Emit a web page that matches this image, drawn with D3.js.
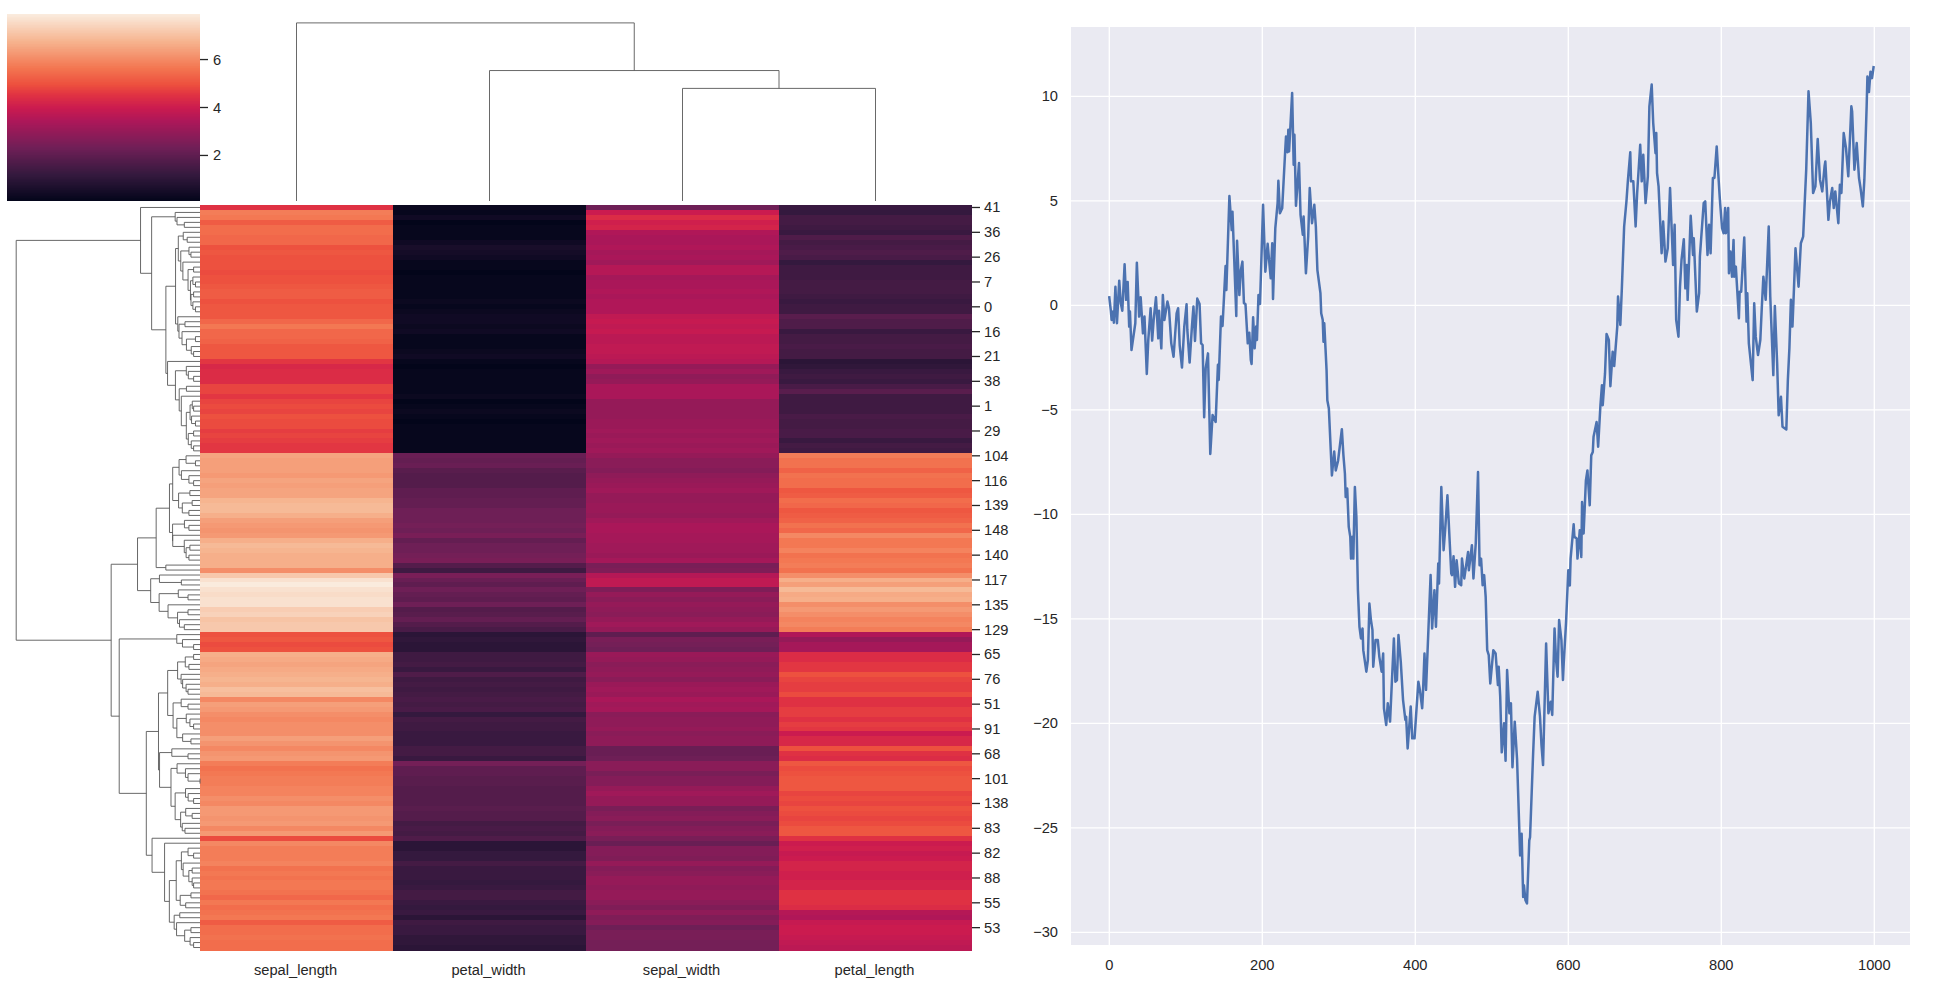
<!DOCTYPE html>
<html>
<head>
<meta charset="utf-8">
<script src="https://cdn.jsdelivr.net/npm/d3@7"></script>
<style>
html,body{margin:0;padding:0;background:#fff;overflow:hidden}
svg{display:block}
text{font-family:"Liberation Sans",Arial,sans-serif;font-size:14.67px;fill:#262626}
</style>
</head>
<body>
<svg id="chart" width="1943" height="981"></svg>
<script>
// Iris measurements, one array per heat-map column, in data-frame index order
const sepalLength = [5.1,4.9,4.7,4.6,5.0,5.4,4.6,5.0,4.4,4.9,5.4,4.8,4.8,4.3,5.8,5.7,5.4,5.1,5.7,5.1,5.4,5.1,4.6,5.1,4.8,5.0,5.0,5.2,5.2,4.7,4.8,5.4,5.2,5.5,4.9,5.0,5.5,4.9,4.4,5.1,5.0,4.5,4.4,5.0,5.1,4.8,5.1,4.6,5.3,5.0,
7.0,6.4,6.9,5.5,6.5,5.7,6.3,4.9,6.6,5.2,5.0,5.9,6.0,6.1,5.6,6.7,5.6,5.8,6.2,5.6,5.9,6.1,6.3,6.1,6.4,6.6,6.8,6.7,6.0,5.7,5.5,5.5,5.8,6.0,5.4,6.0,6.7,6.3,5.6,5.5,5.5,6.1,5.8,5.0,5.6,5.7,5.7,6.2,5.1,5.7,
6.3,5.8,7.1,6.3,6.5,7.6,4.9,7.3,6.7,7.2,6.5,6.4,6.8,5.7,5.8,6.4,6.5,7.7,7.7,6.0,6.9,5.6,7.7,6.3,6.7,7.2,6.2,6.1,6.4,7.2,7.4,7.9,6.4,6.3,6.1,7.7,6.3,6.4,6.0,6.9,6.7,6.9,5.8,6.8,6.7,6.7,6.3,6.5,6.2,5.9];
const sepalWidth = [3.5,3.0,3.2,3.1,3.6,3.9,3.4,3.4,2.9,3.1,3.7,3.4,3.0,3.0,4.0,4.4,3.9,3.5,3.8,3.8,3.4,3.7,3.6,3.3,3.4,3.0,3.4,3.5,3.4,3.2,3.1,3.4,4.1,4.2,3.1,3.2,3.5,3.6,3.0,3.4,3.5,2.3,3.2,3.5,3.8,3.0,3.8,3.2,3.7,3.3,
3.2,3.2,3.1,2.3,2.8,2.8,3.3,2.4,2.9,2.7,2.0,3.0,2.2,2.9,2.9,3.1,3.0,2.7,2.2,2.5,3.2,2.8,2.5,2.8,2.9,3.0,2.8,3.0,2.9,2.6,2.4,2.4,2.7,2.7,3.0,3.4,3.1,2.3,3.0,2.5,2.6,3.0,2.6,2.3,2.7,3.0,2.9,2.9,2.5,2.8,
3.3,2.7,3.0,2.9,3.0,3.0,2.5,2.9,2.5,3.6,3.2,2.7,3.0,2.5,2.8,3.2,3.0,3.8,2.6,2.2,3.2,2.8,2.8,2.7,3.3,3.2,2.8,3.0,2.8,3.0,2.8,3.8,2.8,2.8,2.6,3.0,3.4,3.1,3.0,3.1,3.1,3.1,2.7,3.2,3.3,3.0,2.5,3.0,3.4,3.0];
const petalLength = [1.4,1.4,1.3,1.5,1.4,1.7,1.4,1.5,1.4,1.5,1.5,1.6,1.4,1.1,1.2,1.5,1.3,1.4,1.7,1.5,1.7,1.5,1.0,1.7,1.9,1.6,1.6,1.5,1.4,1.6,1.6,1.5,1.5,1.4,1.5,1.2,1.3,1.4,1.3,1.5,1.3,1.3,1.3,1.6,1.9,1.4,1.6,1.4,1.5,1.4,
4.7,4.5,4.9,4.0,4.6,4.5,4.7,3.3,4.6,3.9,3.5,4.2,4.0,4.7,3.6,4.4,4.5,4.1,4.5,3.9,4.8,4.0,4.9,4.7,4.3,4.4,4.8,5.0,4.5,3.5,3.8,3.7,3.9,5.1,4.5,4.5,4.7,4.4,4.1,4.0,4.4,4.6,4.0,3.3,4.2,4.2,4.2,4.3,3.0,4.1,
6.0,5.1,5.9,5.6,5.8,6.6,4.5,6.3,5.8,6.1,5.1,5.3,5.5,5.0,5.1,5.3,5.5,6.7,6.9,5.0,5.7,4.9,6.7,4.9,5.7,6.0,4.8,4.9,5.6,5.8,6.1,6.4,5.6,5.1,5.6,6.1,5.6,5.5,4.8,5.4,5.6,5.1,5.1,5.9,5.7,5.2,5.0,5.2,5.4,5.1];
const petalWidth = [0.2,0.2,0.2,0.2,0.2,0.4,0.3,0.2,0.2,0.1,0.2,0.2,0.1,0.1,0.2,0.4,0.4,0.3,0.3,0.3,0.2,0.4,0.2,0.5,0.2,0.2,0.4,0.2,0.2,0.2,0.2,0.4,0.1,0.2,0.2,0.2,0.2,0.1,0.2,0.2,0.3,0.3,0.2,0.6,0.4,0.3,0.2,0.2,0.2,0.2,
1.4,1.5,1.5,1.3,1.5,1.3,1.6,1.0,1.3,1.4,1.0,1.5,1.0,1.4,1.3,1.4,1.5,1.0,1.5,1.1,1.8,1.3,1.5,1.2,1.3,1.4,1.4,1.7,1.5,1.0,1.1,1.0,1.2,1.6,1.5,1.6,1.5,1.3,1.3,1.3,1.2,1.4,1.2,1.0,1.3,1.2,1.3,1.3,1.1,1.3,
2.5,1.9,2.1,1.8,2.2,2.1,1.7,1.8,1.8,2.5,2.0,1.9,2.1,2.0,2.4,2.3,1.8,2.2,2.3,1.5,2.3,2.0,2.0,1.8,2.1,1.8,1.8,1.8,2.1,1.6,1.9,2.0,2.2,1.5,1.4,2.3,2.4,1.8,1.8,2.1,2.4,2.3,1.9,2.3,2.5,2.3,1.9,2.0,2.3,1.8];
const columnNames = ["sepal_length","sepal_width","petal_length","petal_width"];
const colorbarTicks = [2,4,6];
const rocketPositions = [0,.143,.286,.429,.5,.571,.625,.714,.857,1];
const rocketStops = ["#03051a","#35193e","#701f57","#ad1759","#cb1b4f","#e13342","#ed503e","#f37651","#f6b48f","#faebdd"];

// Random-walk line: [step, value]
const walk = [[0,.38],[2,-.25],[3,-.7],[5,-.3],[6,-.83],[8,.89],[10,-.86],[13,1.18],[15,.1],[17,-.26],[20,1.96],[22,.26],[24,1.12],[26,-1.02],[27,-.3],[29,-2.14],[34,-.86],[36,2.04],[39,-.54],[41,.38],[44,-1.34],[46,-.54],[49,-3.29],[51,-1.63],[54,-.14],[56,-1.69],[58,-.7],[61,.38],[64,-1.58],[65,-.26],[68,-2.06],[70,.49],[72,-.7],[76,.18],[78,-.14],[81,-1.82],[84,-2.46],[88,-.38],[90,-.14],[92,-1.9],[95,-2.98],[98,-1.02],[101,.05],[102,-1.18],[105,-2.74],[108,-1.02],[110,-.06],[112,-1.71],[115,.32],[118,.06],[120,-1.82],[122,-1.9],[124,-5.36],[126,-3.01],[129,-2.3],[132,-7.11],[135,-5.25],[139,-5.58],[142,-2.85],[143,-3.57],[146,-.54],[148,-.99],[152,1.88],[153,.73],[157,5.23],[160,3.6],[161,4.48],[166,-.51],[167,3.09],[170,.49],[172,1.69],[174,2.09],[176,.1],[178,.06],[181,-1.82],[183,-1.31],[185,-2.62],[186,-2.81],[188,-.57],[190,-2.06],[192,-1.02],[193,-1.66],[195,.49],[197,.06],
[201,4.81],[204,1.61],[207,2.94],[211,1.29],[213,2.97],[214,.3],[217,3.69],[220,4.89],[221,5.96],[223,4.41],[226,4.65],[230,7.44],[231,8.08],[233,7.32],[234,8.4],[235,7.36],[239,10.16],[241,6.73],[242,8.16],[244,4.76],[248,6.81],[250,4.33],[253,3.37],[254,4.25],[257,1.53],[260,3.29],[262,5.61],[265,3.93],[268,4.81],[270,3.77],[272,1.69],[276,.58],[277,-.38],[279,-.7],[280,-1.74],[281,-.86],[284,-3.1],[285,-4.54],[287,-4.94],
[291,-8.14],[294,-7],[296,-7.9],[299,-7.45],[304,-5.93],[306,-7.16],[308,-8.06],[309,-9.17],[311,-8.77],[313,-10.6],[315,-11.08],[316,-12.12],[318,-11.08],[319,-12.12],[321,-8.69],[323,-10.13],[325,-13.63],[327,-15.38],[329,-15.94],[331,-15.46],[332,-16.5],[336,-17.53],[338,-16.97],[340,-14.27],[342,-15.06],[344,-15.54],[345,-17.29],[348,-16.02],[351,-16.02],[353,-16.82],[356,-17.53],[358,-16.66],[359,-19.28],[362,-20.08],[364,-19.04],[367,-19.92],[372,-15.94],[374,-18.01],[376,-17.93],[378,-15.78],[381,-17.05],[384,-18.89],[387,-19.84],[388,-19.68],[390,-21.2],[394,-19.2],[396,-20.72],[399,-20.72],[404,-18.01],[406,-18.4],[409,-19.28],[410,-18.57],[412,-16.66],[414,-18.4],[420,-12.91],[422,-15.46],[425,-13.63],[427,-15.38],[430,-12.36],[431,-13.31],[434,-8.69],[437,-11.72],[439,-10.76],[442,-9.09],[447,-12.83],[448,-12.91],[450,-12.01],[452,-13.47],[454,-12.2],[457,-13.31],[460,-13.39],[461,-12.12],[464,-13.07],[469,-11.8],[470,-12.68],[474,-11.48],[476,-13.07],[479,-11.4],[482,-7.98],[484,-12.44],[486,-12.12],[488,-13.39],[490,-12.91],[492,-13.95],[494,-16.5],[496,-16.74],[498,-18.09],[502,-16.5],[505,-16.66],[508,-18.17],[509,-17.29],[511,-18.73],[513,-21.39],[516,-20],[518,-21.79],[520,-17.45],[523,-19.52],[525,-19.04],[527,-22.1],[530,-19.92],[533,-21.7],[536,-25.13],[537,-26.32],[539,-25.29],[541,-28.31],[542,-27.75],[544,-28.47],[546,-28.62],[549,-25.6],[550,-25.45],[554,-21.47],[556,-19.68],[560,-18.49],[563,-19.68],[565,-21.07],[567,-22],[571,-16.18],[574,-19.52],[577,-18.97],[579,-19.6],[582,-15.46],[584,-16.97],[586,-17.77],[588,-15.06],[591,-16.02],[593,-17.93],[594,-17.13],[597,-15.22],[600,-12.68],[602,-13.41],[603,-12.12],[607,-10.48],[608,-11.08],[611,-11.16],[612,-12.12],[615,-10.76],[617,-12.04],[618,-9.41],[620,-10.92],[623,-8.38],[625,-7.9],[628,-9.57],[630,-7.18],[632,-7.02],
[633,-6.29],[637,-5.58],[639,-6.77],[642,-4.78],[644,-3.82],[645,-4.78],[648,-3.26],[650,-1.37],[653,-1.66],[655,-3.87],[658,-2.22],[660,-2.91],[664,-1.02],[665,.42],[668,-.94],[670,.81],[673,3.77],[676,4.97],[678,6.01],[681,7.32],[682,5.93],[685,5.93],[688,3.77],[690,5.37],[694,7.68],[696,5.93],[698,7.2],[701,4.89],[704,6.17],[706,9.52],[709,10.56],[711,8.72],[714,7.28],[715,8.24],[716,6.33],[718,5.69],[722,2.49],[724,4.01],[727,2.09],[730,2.73],[733,5.61],[735,3.77],[737,1.93],[739,3.85],[741,-.7],[744,-1.5],[746,.89],[748,2.17],[751,3.16],[753,.81],[755,1.93],[756,.26],[760,4.28],[763,2.41],[764,3.21],[768,-.3],[771,.58],[772,2.33],[777,4.89],[779,4.97],[782,2.41],[784,3.85],[786,2.49],[789,6.09],[791,6.09],[794,7.6],[796,6.33],[798,5.13],[801,3.69],[803,3.45],[805,4.65],[806,3.45],[809,4.65],[810,1.53],[812,2.57],[814,1.37],[816,3.13],[817,1.37],[819,1.85],[823,-.62],[824,.65],[826,.65],[830,3.24],[833,-.78],[834,.58],[836,-1.82],[841,-3.58],[843,.1],[845,-1.5],[848,-2.38],[851,-1.66],[853,-.06],[855,1.37],[858,.26],[862,3.77],[864,.42],[868,-3.34],[870,-.03],[873,-2.78],[875,-5.26],[878,-4.38],[880,-5.81],[885,-5.94],[887,-3.58],[889,-2.06],[891,.26],[893,-1.02],[895,.81],[897,2.73],[901,.89],[904,2.97],[907,3.29],[911,6.49],[914,10.24],[917,8.72],[920,5.37],[923,5.69],[926,7.96],[929,6.01],[932,5.45],[935,6.65],[936,6.88],[940,4.09],[942,4.97],[945,5.61],[947,4.65],[949,5.45],[953,3.93],[955,5.77],[957,5.37],[960,8.24],[963,7.52],[966,6.17],[970,9.52],[971,9.28],[974,6.49],[977,7.76],[980,6.09],[982,5.61],[985,4.73],[987,6.01],[990,9.52],[991,10.95],[993,10.2],[995,11.18],[997,10.87],[999,11.39]];
const walkXTicks = [0,200,400,600,800,1000];
const walkYTicks = [10,5,0,-5,-10,-15,-20,-25,-30];

// ---- average-linkage clustering of the heat-map rows and columns ----
function linkage(obs){
  const n = obs.length;
  const D = obs.map(a => obs.map(b => Math.sqrt(a.reduce((s,v,k)=>s+(v-b[k])*(v-b[k]),0))));
  const size = new Array(n).fill(1), Z = [];
  let chain = [];
  for(let k=0;k<n-1;k++){
    if(!chain.length){ chain=[size.findIndex(s=>s>0)]; }
    let x,y,cur;
    while(true){
      x = chain[chain.length-1];
      if(chain.length>1){ y=chain[chain.length-2]; cur=D[x][y]; } else { cur=Infinity; }
      for(let i=0;i<n;i++){
        if(size[i]===0||i===x) continue;
        if(D[x][i]<cur){ cur=D[x][i]; y=i; }
      }
      if(chain.length>1 && y===chain[chain.length-2]) break;
      chain.push(y);
    }
    chain.length -= 2;
    if(x>y){ const t=x;x=y;y=t; }
    const nx=size[x], ny=size[y];
    Z.push([x,y,cur]);
    size[x]=0; size[y]=nx+ny;
    for(let i=0;i<n;i++){
      if(size[i]===0||i===y) continue;
      const d=(nx*D[i][x]+ny*D[i][y])/(nx+ny);
      D[i][y]=d; D[y][i]=d;
    }
  }
  Z.sort((a,b)=>a[2]-b[2]);
  const parent=[...Array(2*n-1).keys()];
  const find=i=>{ while(parent[i]!==i) i=parent[i]; return i; };
  let next=n;
  Z.forEach(z=>{
    const a=find(z[0]), b=find(z[1]);
    z[0]=Math.min(a,b); z[1]=Math.max(a,b);
    parent[a]=next; parent[b]=next; next++;
  });
  return Z;
}
function dendrogram(Z,n){
  const leaves=[], links=[];
  function visit(id){
    if(id<n){ const pos=leaves.length+.5; leaves.push(id); return {pos,h:0}; }
    const z=Z[id-n], l=visit(z[0]), r=visit(z[1]);
    links.push({l,r,h:z[2]});
    return {pos:(l.pos+r.pos)/2,h:z[2]};
  }
  visit(n+Z.length-1);
  return {leaves,links,maxH:d3.max(Z,z=>z[2])};
}
const rows = sepalLength.map((_,i)=>[sepalLength[i],sepalWidth[i],petalLength[i],petalWidth[i]]);
const cols = columnNames.map((_,j)=>rows.map(r=>r[j]));
const rowTree = dendrogram(linkage(rows),rows.length);
const colTree = dendrogram(linkage(cols),cols.length);

// ---- drawing ----
const svg = d3.select("#chart");
const hm = {l:200,r:972,t:205,b:950};
const cb = {l:7,r:200,t:14,b:201};
const valMin = d3.min(rows,r=>d3.min(r)), valMax = d3.max(rows,r=>d3.max(r));
const rocket = d3.scaleLinear().domain(rocketPositions).range(rocketStops).interpolate(d3.interpolateRgb);
const color = v => rocket((v-valMin)/(valMax-valMin));

const xBand = d3.scaleBand().domain(colTree.leaves).range([hm.l,hm.r]);
const yBand = d3.scaleBand().domain(rowTree.leaves).range([hm.t,hm.b]);
const cells = [];
rowTree.leaves.forEach(r=>colTree.leaves.forEach(c=>cells.push({r,c,v:rows[r][c]})));
svg.append("g").attr("shape-rendering","crispEdges").selectAll("rect").data(cells).join("rect")
  .attr("x",d=>xBand(d.c)).attr("y",d=>yBand(d.r))
  .attr("width",xBand.bandwidth()).attr("height",yBand.bandwidth()+.5)
  .attr("fill",d=>color(d.v));

// bottom labels
svg.append("g").selectAll("text").data(colTree.leaves).join("text")
  .attr("x",d=>xBand(d)+xBand.bandwidth()/2-1).attr("y",975).attr("text-anchor","middle")
  .text(d=>columnNames[d]);
// right row labels, every fifth row
const rowTicks = rowTree.leaves.filter((_,i)=>i%5===0);
const rt = svg.append("g");
rt.selectAll("line").data(rowTicks).join("line")
  .attr("x1",hm.r).attr("x2",hm.r+8)
  .attr("y1",d=>yBand(d)+yBand.bandwidth()/2).attr("y2",d=>yBand(d)+yBand.bandwidth()/2)
  .attr("stroke","#262626").attr("stroke-width",1.3);
rt.selectAll("text").data(rowTicks).join("text")
  .attr("x",hm.r+12).attr("y",d=>yBand(d)+yBand.bandwidth()/2+5)
  .text(d=>d);

// dendrograms
const dendColor = "#585858";
const rowD = d3.scaleLinear().domain([0,rowTree.maxH*1.05]).range([hm.l,cb.l]);
const rowP = d3.scaleLinear().domain([0,rows.length]).range([hm.t,hm.b]);
const lineGen = d3.line();
svg.append("g").selectAll("path").data(rowTree.links).join("path")
  .attr("fill","none").attr("stroke",dendColor).attr("stroke-width",.9)
  .attr("d",d=>lineGen([[rowD(d.l.h),rowP(d.l.pos)],[rowD(d.h),rowP(d.l.pos)],[rowD(d.h),rowP(d.r.pos)],[rowD(d.r.h),rowP(d.r.pos)]]));
const colD = d3.scaleLinear().domain([0,colTree.maxH*1.05]).range([cb.b,cb.t]);
const colP = d3.scaleLinear().domain([0,cols.length]).range([hm.l,hm.r]);
svg.append("g").selectAll("path").data(colTree.links).join("path")
  .attr("fill","none").attr("stroke",dendColor).attr("stroke-width",.9)
  .attr("d",d=>lineGen([[colP(d.l.pos),colD(d.l.h)],[colP(d.l.pos),colD(d.h)],[colP(d.r.pos),colD(d.h)],[colP(d.r.pos),colD(d.r.h)]]));

// colour bar
const cbY = d3.scaleLinear().domain([valMin,valMax]).range([cb.b,cb.t]);
const cbLevels = d3.range(256).map(i=>valMin+(valMax-valMin)*i/255);
const cbBand = d3.scaleBand().domain(cbLevels).range([cb.b,cb.t]);
svg.append("g").attr("shape-rendering","crispEdges").selectAll("rect").data(cbLevels).join("rect")
  .attr("x",cb.l).attr("width",cb.r-cb.l)
  .attr("y",d=>cbBand(d)).attr("height",cbBand.bandwidth()+.4)
  .attr("fill",d=>color(d));
const cbT = svg.append("g");
cbT.selectAll("line").data(colorbarTicks).join("line")
  .attr("x1",cb.r).attr("x2",cb.r+8).attr("y1",d=>cbY(d)).attr("y2",d=>cbY(d))
  .attr("stroke","#262626").attr("stroke-width",1.3);
cbT.selectAll("text").data(colorbarTicks).join("text")
  .attr("x",cb.r+13).attr("y",d=>cbY(d)+5).text(d=>d);

// random-walk panel
const panel = {l:1071,r:1910,t:27,b:945};
const xW = d3.scaleLinear().domain([0,1000]).range([1109.3,1874.3]);
const yW = d3.scaleLinear().domain([-30,10]).range([932.3,96.3]);
svg.append("rect").attr("x",panel.l).attr("y",panel.t).attr("width",panel.r-panel.l).attr("height",panel.b-panel.t).attr("fill","#eaeaf2");
const grid = svg.append("g").attr("stroke","#fff").attr("stroke-width",1.33);
grid.selectAll("line.x").data(walkXTicks).join("line").attr("class","x")
  .attr("x1",d=>xW(d)).attr("x2",d=>xW(d)).attr("y1",panel.t).attr("y2",panel.b);
grid.selectAll("line.y").data(walkYTicks).join("line").attr("class","y")
  .attr("x1",panel.l).attr("x2",panel.r).attr("y1",d=>yW(d)).attr("y2",d=>yW(d));
const fmt = d=>String(d).replace("-","\u2212");
svg.append("g").selectAll("text").data(walkXTicks).join("text")
  .attr("x",d=>xW(d)).attr("y",970).attr("text-anchor","middle").text(fmt);
svg.append("g").selectAll("text").data(walkYTicks).join("text")
  .attr("x",1058).attr("y",d=>yW(d)+5).attr("text-anchor","end").text(fmt);
svg.append("path").datum(walk)
  .attr("fill","none").attr("stroke","#4c72b0").attr("stroke-width",2.5).attr("stroke-linejoin","round").attr("stroke-linecap","square")
  .attr("d",d3.line().x(d=>xW(d[0])).y(d=>yW(d[1])));
</script>
</body>
</html>
